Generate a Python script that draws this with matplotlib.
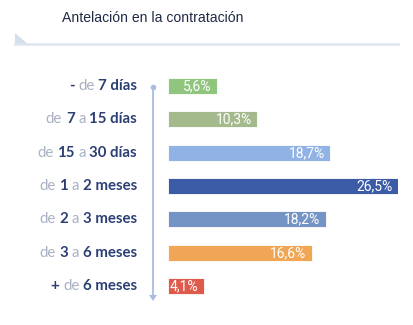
import matplotlib.pyplot as plt
from matplotlib.patches import Polygon
from matplotlib.lines import Line2D

# Datos
periodos = [
    [("-", True), ("de", False), ("7 días", True)],
    [("de", False), ("7", True), ("a", False), ("15 días", True)],
    [("de", False), ("15", True), ("a", False), ("30 días", True)],
    [("de", False), ("1", True), ("a", False), ("2 meses", True)],
    [("de", False), ("2", True), ("a", False), ("3 meses", True)],
    [("de", False), ("3", True), ("a", False), ("6 meses", True)],
    [("+", True), ("de", False), ("6 meses", True)],
]
porcentajes = [5.6, 10.3, 18.7, 26.5, 18.2, 16.6, 4.1]
colores = ["#8fc57c", "#a4ba8c", "#91b2e5", "#3b5ba7", "#7594c6", "#f0a654", "#e05a4c"]

W, H = 414, 325
fig = plt.figure(figsize=(W / 100, H / 100), dpi=100)
fig.patch.set_facecolor("white")

def px(x, y):
    return x / W, 1 - y / H

# Título y línea decorativa
fig.text(*px(62, 18), "Antelación en la contratación", fontsize=10.1,
         family="Liberation Sans", color="#1f2a44", va="center", ha="left")
fig.add_artist(Line2D([15 / W, 398 / W], [1 - 44 / H, 1 - 44 / H],
                      color="#dfe4ee", lw=1.8))
fig.add_artist(Polygon([px(15, 33), px(15, 45), px(29, 45)], closed=True,
                       facecolor="#d6ddec", edgecolor="none"))

# Ejes de las barras
top, bottom = 69.5, 302.8
x0, x1 = 168, 398
ax = fig.add_axes([x0 / W, 1 - bottom / H, (x1 - x0) / W, (bottom - top) / H])
ax.set_xlim(0, max(porcentajes))
ax.set_ylim(len(porcentajes) - 0.5, -0.5)
ax.axis("off")

ys = range(len(porcentajes))
ax.barh(ys, porcentajes, height=0.48, color=colores, edgecolor="#ffffff",
        linewidth=0.6, align="center")
for y, v in zip(ys, porcentajes):
    ax.annotate(f"{v:.1f}%".replace(".", ","), (v, y), xytext=(-4, 0),
                textcoords="offset points", ha="right", va="center",
                color="white", fontsize=10, family="Roboto")

# Línea vertical con punto y flecha
axis_x = 153
fig.add_artist(Line2D([axis_x / W] * 2, [1 - 87 / H, 1 - 297 / H],
                      color="#a9bde2", lw=1.3))
fig.add_artist(Line2D([axis_x / W], [1 - 87 / H], marker="o", markersize=4,
                      color="#a9bde2", mec="none"))
fig.add_artist(Polygon([px(axis_x - 4, 295), px(axis_x + 4, 295), px(axis_x, 301)],
                       closed=True, facecolor="#a9bde2", edgecolor="none"))

# Etiquetas de categorías: trozos en negrita y en gris, alineados a la derecha
fig.canvas.draw()
renderer = fig.canvas.get_renderer()
navy, gris = "#2c3f74", "#a9b1c3"
hueco = 3.6
for y, partes in zip(ys, periodos):
    _, yf = ax.transData.transform((0, y))
    xr = 137
    for txt, bold in reversed(partes):
        t = fig.text(xr / W, yf / H, txt, ha="right", va="center",
                     fontsize=10.8, family="Lato",
                     fontweight="bold" if bold else "normal",
                     color=navy if bold else gris)
        bb = t.get_window_extent(renderer)
        xr = bb.x0 - hueco

fig.savefig("out.png", dpi=100, facecolor="white")
